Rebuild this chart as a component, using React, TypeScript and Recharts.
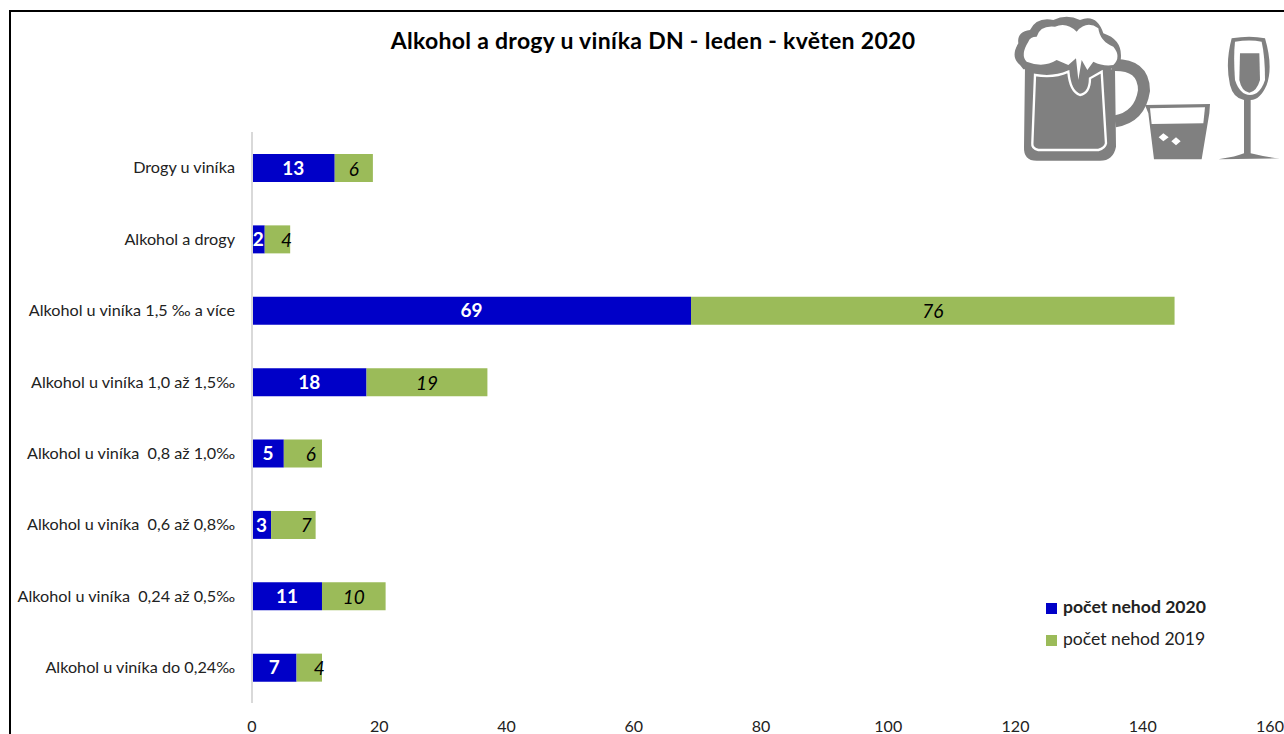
import React from 'react'
import { Bar, BarChart, LabelList, Legend, XAxis, YAxis } from 'recharts'

const categories = [
  'Drogy u viníka',
  'Alkohol a drogy',
  'Alkohol u viníka 1,5 ‰ a více',
  'Alkohol u viníka 1,0 až 1,5‰',
  'Alkohol u viníka\u00a0 0,8 až 1,0‰',
  'Alkohol u viníka\u00a0 0,6 až 0,8‰',
  'Alkohol u viníka\u00a0 0,24 až 0,5‰',
  'Alkohol u viníka do 0,24‰',
]
const nehody2020 = [13, 2, 69, 18, 5, 3, 11, 7]
const nehody2019 = [6, 4, 76, 19, 6, 7, 10, 4]
const xTicks = [0, 20, 40, 60, 80, 100, 120, 140, 160]

const data = categories.map((name, i) => ({ name, n2020: nehody2020[i], n2019: nehody2019[i] }))

const FONT = 'Lato, "Open Sans", sans-serif'
const BLUE = '#0000c8'
const GREEN = '#9bbb59'
const GREY = '#808080'

// labels of the 2019 series that were dragged by hand in the original
const labelShift: Record<number, number> = { 1: 9, 4: 8, 5: 13, 7: 10 }

function Label2019(props: any) {
  const { x, y, width, height, value, index } = props
  return (
    <text
      x={x + width / 2 + (labelShift[index] ?? 0)}
      y={y + height / 2}
      textAnchor="middle"
      dominantBaseline="central"
      fontFamily={FONT}
      fontSize={19}
      fontStyle="italic"
      fill="#000"
    >
      {value}
    </text>
  )
}

function DrinkIcons() {
  return (
    <svg
      width={284}
      height={180}
      viewBox="0 0 852 540"
      style={{ position: 'absolute', left: 1000, top: 0 }}
    >
      {/* handle */}
      <path d="M335 195 Q432 190 432 272 Q420 352 345 364" fill="none" stroke={GREY} strokeWidth={36} />
      {/* mug */}
      <path d="M75 200 L300 200 L345 210 L348 440 Q340 482 300 482 L110 482 Q70 482 72 440 Z" fill={GREY} />
      <path
        d="M105 225 Q160 235 205 215 Q210 275 240 285 Q270 280 270 235 L305 215 L318 430 Q315 445 295 450 L115 450 Q95 445 97 430 Z"
        fill={GREY}
        stroke="#fff"
        strokeWidth={7}
      />
      {/* foam */}
      <path
        d="M60 195 Q30 170 55 130 Q50 95 90 90 Q110 50 160 60 Q200 40 240 60 Q290 40 310 100 Q370 120 362 180 Q350 215 300 208 L70 208 Z"
        fill={GREY}
      />
      <path
        d="M80 185 Q60 165 85 125 Q90 110 110 110 Q120 75 165 80 Q200 65 230 95 Q260 60 295 85 Q300 125 340 140 Q365 170 340 195 Q310 200 280 185 L262 210 L245 180 L235 240 L228 175 L205 195 L170 180 Q130 205 80 185 Z"
        fill="#fff"
      />
      {/* tumbler */}
      <path d="M435 315 L630 312 L628 340 L605 478 L462 478 L445 340 Z" fill={GREY} />
      <path d="M450 325 L615 322 L610 370 L455 372 Z" fill="#fff" />
      <path d="M490 400 L506 412 L490 424 L476 412 Z M528 412 L542 424 L528 436 L514 424 Z" fill="#fff" />
      {/* wine glass */}
      <path
        d="M695 115 Q750 105 795 115 Q820 200 800 255 Q780 300 752 300 L752 460 Q790 470 840 475 L655 478 Q710 470 732 460 L732 300 Q700 295 690 255 Q675 190 695 115 Z"
        fill={GREY}
      />
      <path
        d="M705 125 Q750 118 785 125 Q795 170 795 240 Q780 285 750 285 Q720 285 705 240 Q700 170 705 125 Z"
        fill="#fff"
      />
      <path d="M720 160 L778 160 L780 240 Q770 275 748 278 Q725 275 718 240 Z" fill={GREY} />
    </svg>
  )
}

export default function App() {
  return (
    <div
      style={{
        position: 'absolute',
        left: 0,
        top: 0,
        width: 1284,
        height: 734,
        overflow: 'hidden',
        background: '#fff',
        fontFamily: FONT,
      }}
    >
      <BarChart
        width={1284}
        height={734}
        data={data}
        layout="vertical"
        margin={{ top: 132, right: 14, bottom: 0, left: 0 }}
        barSize={28}
      >
        <XAxis
          type="number"
          domain={[0, 160]}
          ticks={xTicks}
          axisLine={false}
          tickLine={false}
          tickMargin={12}
          height={31}
          interval={0}
          tick={{ fill: '#222', fontSize: 16, fontFamily: FONT }}
        />
        <YAxis
          type="category"
          dataKey="name"
          width={252}
          interval={0}
          tickLine={false}
          tickSize={0}
          tickMargin={17}
          axisLine={{ stroke: '#d9d9d9', strokeWidth: 2 }}
          tick={{ fill: '#222', fontSize: 16.2, fontFamily: FONT }}
        />
        <Legend
          layout="vertical"
          align="center"
          verticalAlign="middle"
          iconType="square"
          iconSize={11}
          itemSorter={null}
          wrapperStyle={{ left: 1046, top: 591, width: 200, fontSize: 17.6, lineHeight: '32px', textAlign: 'left' }}
          formatter={(value: string) => (
            <span style={{ color: '#222', marginLeft: 2, fontWeight: value.endsWith('2020') ? 700 : 400 }}>{value}</span>
          )}
        />
        <Bar dataKey="n2020" name="počet nehod 2020" stackId="a" fill={BLUE} isAnimationActive={false}>
          <LabelList
            dataKey="n2020"
            position="center"
            fill="#fff"
            fontSize={19}
            fontWeight={700}
            fontFamily={FONT}
          />
        </Bar>
        <Bar dataKey="n2019" name="počet nehod 2019" stackId="a" fill={GREEN} isAnimationActive={false}>
          <LabelList dataKey="n2019" content={<Label2019 />} />
        </Bar>
      </BarChart>

      <div
        style={{
          position: 'absolute',
          left: 353,
          width: 600,
          top: 26,
          textAlign: 'center',
          fontSize: 23,
          letterSpacing: 0.3,
          fontWeight: 700,
          color: '#000',
        }}
      >
        Alkohol a drogy u viníka DN - leden - květen 2020
      </div>

      <DrinkIcons />

      {/* frame of the pasted picture */}
      <div style={{ position: 'absolute', left: 9, top: 10, right: 0, height: 2, background: '#000' }} />
      <div style={{ position: 'absolute', left: 9, top: 10, bottom: 0, width: 2, background: '#000' }} />
    </div>
  )
}
